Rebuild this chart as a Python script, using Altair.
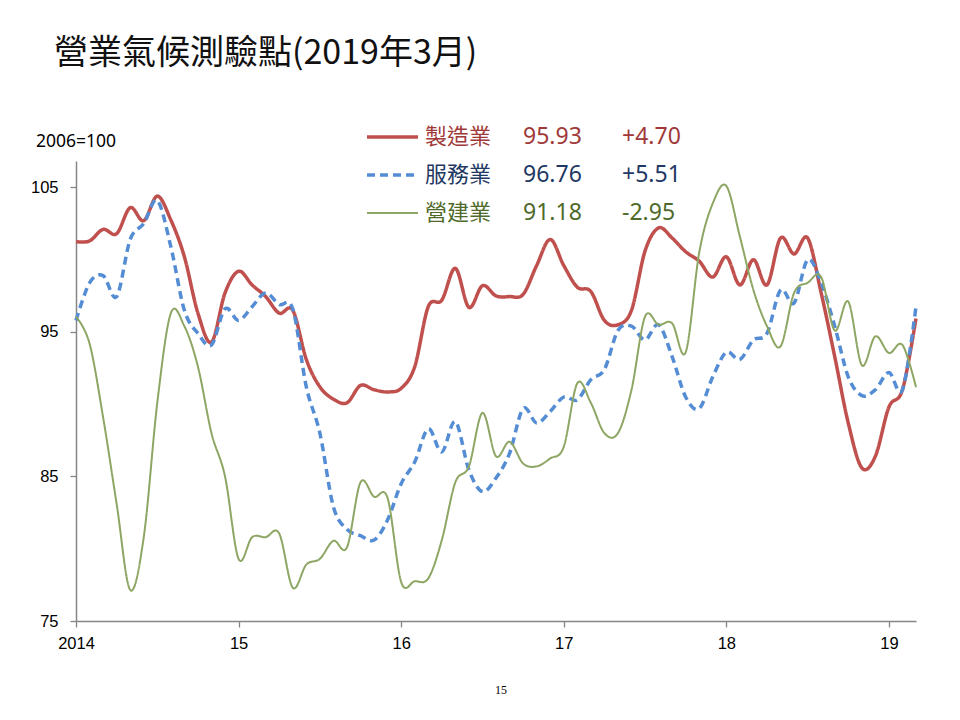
import altair as alt
import pandas as pd

# ---- data (monthly, Jan 2014 .. Mar 2019) ----
mfg = [101.25, 101.3, 102.1, 101.8, 103.6, 102.7, 104.4, 102.75, 100.2, 96.3, 94.3, 97.7,
       99.2, 98.25, 97.45, 96.3, 96.5, 93.1, 91.2, 90.35, 90.1, 91.3, 91.0, 90.85,
       91.1, 92.6, 96.75, 97.2, 99.4, 96.7, 98.2, 97.5, 97.45, 97.6, 99.6, 101.4,
       99.6, 98.1, 97.8, 95.8, 95.5, 96.5, 100.6, 102.2, 101.5, 100.55, 99.9, 98.8,
       100.2, 98.25, 100.0, 98.25, 101.5, 100.4, 101.5, 97.7, 93.3, 88.7, 85.6, 86.4,
       89.8, 91.0, 95.93]
svc = [95.8, 98.4, 98.9, 97.45, 101.4, 102.5, 104.1, 100.9, 96.5, 94.9, 94.1, 96.6,
       95.8, 96.75, 97.7, 96.9, 96.6, 91.2, 88.0, 82.9, 81.35, 80.9, 80.6, 82.0,
       84.5, 86.0, 88.3, 86.7, 88.8, 85.45, 83.95, 84.9, 86.6, 89.7, 88.7, 89.5,
       90.5, 90.3, 91.7, 92.4, 95.1, 95.4, 94.45, 95.5, 93.3, 90.5, 89.7, 91.9,
       93.6, 93.1, 94.45, 94.9, 97.9, 97.0, 100.0, 98.4, 95.4, 91.9, 90.6, 91.0,
       92.2, 91.0, 96.76]
con = [96.06, 94.2, 89.1, 83.1, 77.15, 80.8, 90.1, 96.3, 95.4, 92.6, 88.0, 85.0,
       79.3, 80.8, 80.8, 81.05, 77.3, 78.9, 79.3, 80.55, 80.1, 84.6, 83.6, 83.5,
       77.7, 77.75, 77.95, 80.6, 84.6, 85.7, 89.4, 86.4, 87.4, 85.9, 85.7, 86.25,
       87.05, 91.45, 90.1, 88.0, 88.0, 91.0, 96.06, 95.5, 95.6, 93.6, 100.5, 103.9,
       105.1, 101.6, 97.9, 95.4, 94.0, 97.7, 98.4, 98.8, 95.1, 97.1, 92.7, 94.7,
       93.55, 94.1, 91.18]

series_names = ["製造業", "服務業", "營建業"]
latest = ["95.93", "96.76", "91.18"]
changes = ["+4.70", "+5.51", "-2.95"]
year_labels = ["2014", "15", "16", "17", "18", "19"]
y_ticks = [75, 85, 95, 105]

title_text = "營業氣候測驗點(2019年3月)"
unit_text = "2006=100"
page_no = "15"

line_colors = ["#C0504D", "#548DD4", "#8EA663"]
text_colors = ["#A0393A", "#1F3864", "#4F6A2A"]
line_widths = [3.5, 3.5, 2.0]
dashes = [[1, 0], [8, 5], [1, 0]]

W, H = 840, 460
YMIN, YMAX = 75, 106.83

x_scale = alt.Scale(domain=[0, 62], nice=False)
y_scale = alt.Scale(domain=[YMIN, YMAX], nice=False, zero=False)

label_expr = "[" + ",".join("'%s'" % s for s in year_labels) + "][datum.value / 12]"

x_axis = alt.Axis(values=[0, 12, 24, 36, 48, 60], labelExpr=label_expr, title=None,
                  grid=False, domainColor="#868686", domainWidth=1.5, tickColor="#868686",
                  tickWidth=1.3, tickSize=6, labelFont="Liberation Sans", labelFontSize=16.5,
                  labelColor="#000000", labelPadding=8, labelFlush=False)
y_axis = alt.Axis(values=y_ticks, title=None, grid=False, domainColor="#868686",
                  domainWidth=1.5, tickColor="#868686", tickWidth=1.3, tickSize=6,
                  labelFont="Liberation Sans", labelFontSize=16.5, labelColor="#000000",
                  labelPadding=12)

layers = []
for k, vals in enumerate([mfg, svc, con]):
    df = pd.DataFrame({"m": list(range(len(vals))), "v": vals})
    layers.append(
        alt.Chart(df).mark_line(color=line_colors[k], strokeWidth=line_widths[k],
                                strokeDash=dashes[k], interpolate="cardinal", tension=0,
                                strokeCap="butt").encode(
            x=alt.X("m:Q", scale=x_scale, axis=x_axis),
            y=alt.Y("v:Q", scale=y_scale, axis=y_axis),
        )
    )

one = pd.DataFrame({"t": [0]})

def text_layer(txt, x, y, size, color, font="Noto Sans CJK TC", align="left"):
    return alt.Chart(pd.DataFrame({"t": [txt]})).mark_text(
        align=align, baseline="middle", fontSize=size, font=font, color=color
    ).encode(x=alt.value(x), y=alt.value(y), text="t:N")

# title
layers.append(text_layer(title_text, -22, -107, 34, "#111111"))
# unit label
layers.append(text_layer(unit_text, -40, -19, 17.5, "#000000", font="Noto Sans"))
# page number
layers.append(text_layer(page_no, 425, 529, 12, "#000000", font="Liberation Serif", align="center"))

# legend
row_y = [-24, 14, 52]
for k in range(3):
    layers.append(
        alt.Chart(one).mark_rule(color=line_colors[k], strokeWidth=line_widths[k],
                                 strokeDash=dashes[k], strokeCap="butt").encode(
            x=alt.value(291), x2=alt.value(342), y=alt.value(row_y[k]))
    )
    layers.append(text_layer(series_names[k], 349, row_y[k], 22, text_colors[k]))
    layers.append(text_layer(latest[k], 447, row_y[k], 23, text_colors[k], font="Noto Sans"))
    layers.append(text_layer(changes[k], 546, row_y[k], 23, text_colors[k], font="Noto Sans"))

chart = alt.layer(*layers).properties(
    width=W, height=H,
    background="#FFFFFF",
    autosize=alt.AutoSizeParams(type="none"),
    padding={"left": 68, "top": 153, "right": 36, "bottom": 90},
).configure_view(stroke=None)

chart.save("out.html", embed_options={"renderer": "svg", "actions": False})
